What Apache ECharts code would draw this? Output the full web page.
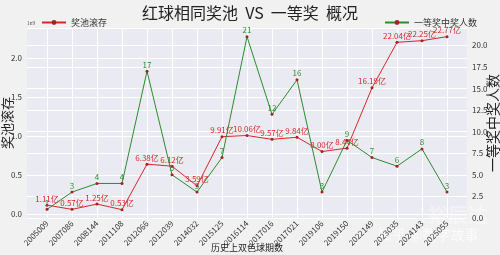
<!DOCTYPE html>
<html>
<head>
<meta charset="utf-8">
<script src="https://cdn.jsdelivr.net/npm/echarts@6/dist/echarts.min.js"></script>
<style>
  html, body { margin: 0; padding: 0; background: #f1f1f1; }
  #chart { width: 500px; height: 255px; }
</style>
</head>
<body>
<div id="chart"></div>
<script>
  // 期数
  var issues = ['2005009', '2007086', '2008144', '2011108', '2012066', '2012039', '2014032', '2015125',
    '2016114', '2017016', '2017021', '2019106', '2019150', '2022149', '2023035', '2024143', '2025055']
  // 奖池滚存（亿）
  var jackpotYi = [1.11, 0.57, 1.25, 0.53, 6.38, 6.12, 3.59, 9.91,
    10.06, 9.57, 9.84, 8.00, 8.44, 16.19, 22.04, 22.25, 22.77]
  // 一等奖中奖人数
  var winners = [1, 3, 4, 4, 17, 5, 3, 7, 21, 12, 16, 3, 9, 7, 6, 8, 3]

  var font = 'Noto Sans CJK SC'
  var leftMin = -0.054
  var leftMax = 2.388
  var rightMin = 0
  var rightMax = 22

  // 左轴单位 1e9
  var jackpotE9 = jackpotYi.map(function (v) { return v / 10 })

  const myChart = echarts.init(document.getElementById('chart'))
  var option = {
    backgroundColor: '#f1f1f1',
    animation: false,
    textStyle: { fontFamily: font },
    title: {
      text: '红球相同奖池  VS  一等奖  概况',
      left: 'center',
      top: 0,
      textStyle: { fontSize: 16, fontWeight: 'normal', color: '#222', fontFamily: font }
    },
    legend: [{
      data: ['奖池滚存'],
      left: 36,
      top: 13,
      itemWidth: 24,
      itemHeight: 6,
      textStyle: { fontSize: 9, color: '#333', fontFamily: font }
    }, {
      data: ['一等奖中奖人数'],
      right: 18,
      top: 13,
      itemWidth: 24,
      itemHeight: 6,
      textStyle: { fontSize: 9, color: '#333', fontFamily: font }
    }],
    grid: [
      // 外框：背景和横向网格
      { left: 27, right: 33, top: 28, bottom: 37, show: true, backgroundColor: '#eaeaf2', borderWidth: 0, outerBoundsMode: 'none' },
      // 内框：数据点
      { left: 47, right: 53, top: 28, bottom: 37, outerBoundsMode: 'none' }
    ],
    xAxis: [{
      type: 'category',
      gridIndex: 1,
      data: issues,
      boundaryGap: false,
      name: '历史上双色球期数',
      nameLocation: 'middle',
      nameGap: 25,
      nameMoveOverlap: false,
      nameTextStyle: { fontSize: 9, color: '#222', fontFamily: font },
      axisLine: { show: false },
      axisTick: { show: false },
      axisLabel: { rotate: 45, fontSize: 8, color: '#333', margin: 4, interval: 0, fontFamily: font },
      splitLine: { show: true, lineStyle: { color: '#ffffff', width: 1 } }
    }, {
      type: 'value',
      gridIndex: 0,
      show: false
    }],
    yAxis: [{
      type: 'value',
      gridIndex: 0,
      position: 'left',
      min: leftMin,
      max: leftMax,
      splitNumber: 5,
      name: '奖池滚存',
      nameLocation: 'middle',
      nameRotate: 90,
      nameGap: 13,
      nameMoveOverlap: false,
      nameTextStyle: { fontSize: 13, color: '#222', fontFamily: font },
      axisLine: { show: false },
      axisTick: { show: false },
      axisLabel: {
        fontSize: 8, color: '#333', margin: 5, fontFamily: font,
        formatter: function (v) { return (v < -0.001 || v > 2.3) ? '' : v.toFixed(1) }
      },
      splitLine: { show: true, lineStyle: { color: '#ffffff', width: 1 } }
    }, {
      type: 'value',
      gridIndex: 0,
      position: 'right',
      min: rightMin,
      max: rightMax,
      interval: 2.5,
      name: '一等奖中奖人数',
      nameLocation: 'middle',
      nameRotate: 90,
      nameGap: 19,
      nameMoveOverlap: false,
      nameTextStyle: { fontSize: 14, color: '#222', fontFamily: font },
      axisLine: { show: false },
      axisTick: { show: false },
      axisLabel: {
        fontSize: 8, color: '#333', margin: 5, fontFamily: font,
        formatter: function (v) { return v > 21 ? '' : v.toFixed(1) }
      },
      splitLine: { show: true, lineStyle: { color: '#ffffff', width: 1 } }
    }, {
      type: 'value', gridIndex: 1, min: leftMin, max: leftMax, show: false
    }, {
      type: 'value', gridIndex: 1, min: rightMin, max: rightMax, show: false
    }],
    series: [{
      name: '奖池滚存',
      type: 'line',
      xAxisIndex: 0,
      yAxisIndex: 2,
      data: jackpotE9,
      symbol: 'circle',
      symbolSize: 3,
      showAllSymbol: true,
      lineStyle: { color: '#d62728', width: 1 },
      itemStyle: { color: '#a82222', borderWidth: 0 },
      label: {
        show: true,
        position: 'top',
        distance: 1,
        fontSize: 8,
        color: '#d62728',
        fontFamily: font,
        formatter: function (p) { return jackpotYi[p.dataIndex].toFixed(2) + '亿' }
      },
      z: 2
    }, {
      name: '一等奖中奖人数',
      type: 'line',
      xAxisIndex: 0,
      yAxisIndex: 3,
      data: winners,
      symbol: 'circle',
      symbolSize: 3,
      showAllSymbol: true,
      lineStyle: { color: '#2e8b2e', width: 1 },
      itemStyle: { color: '#a82222', borderWidth: 0 },
      label: {
        show: true,
        position: 'top',
        distance: 1,
        fontSize: 8,
        color: '#2e8b2e',
        fontFamily: font
      },
      z: 3
    }],
    graphic: [{
      type: 'text',
      left: 27,
      top: 21,
      style: { text: '1e9', fontSize: 5, fill: '#555', fontFamily: font }
    }, {
      type: 'text',
      left: 378,
      top: 228,
      style: { text: '知乎 @数字故事', fontSize: 14, fill: 'rgba(255,255,255,0.7)', fontFamily: font }
    }, {
      type: 'text',
      left: 428,
      top: 205,
      style: { text: '裕辰达', fontSize: 20, fontWeight: 'bold', fill: 'rgba(255,255,255,0.35)', fontFamily: font }
    }]
  }
  myChart.setOption(option)
</script>
</body>
</html>
